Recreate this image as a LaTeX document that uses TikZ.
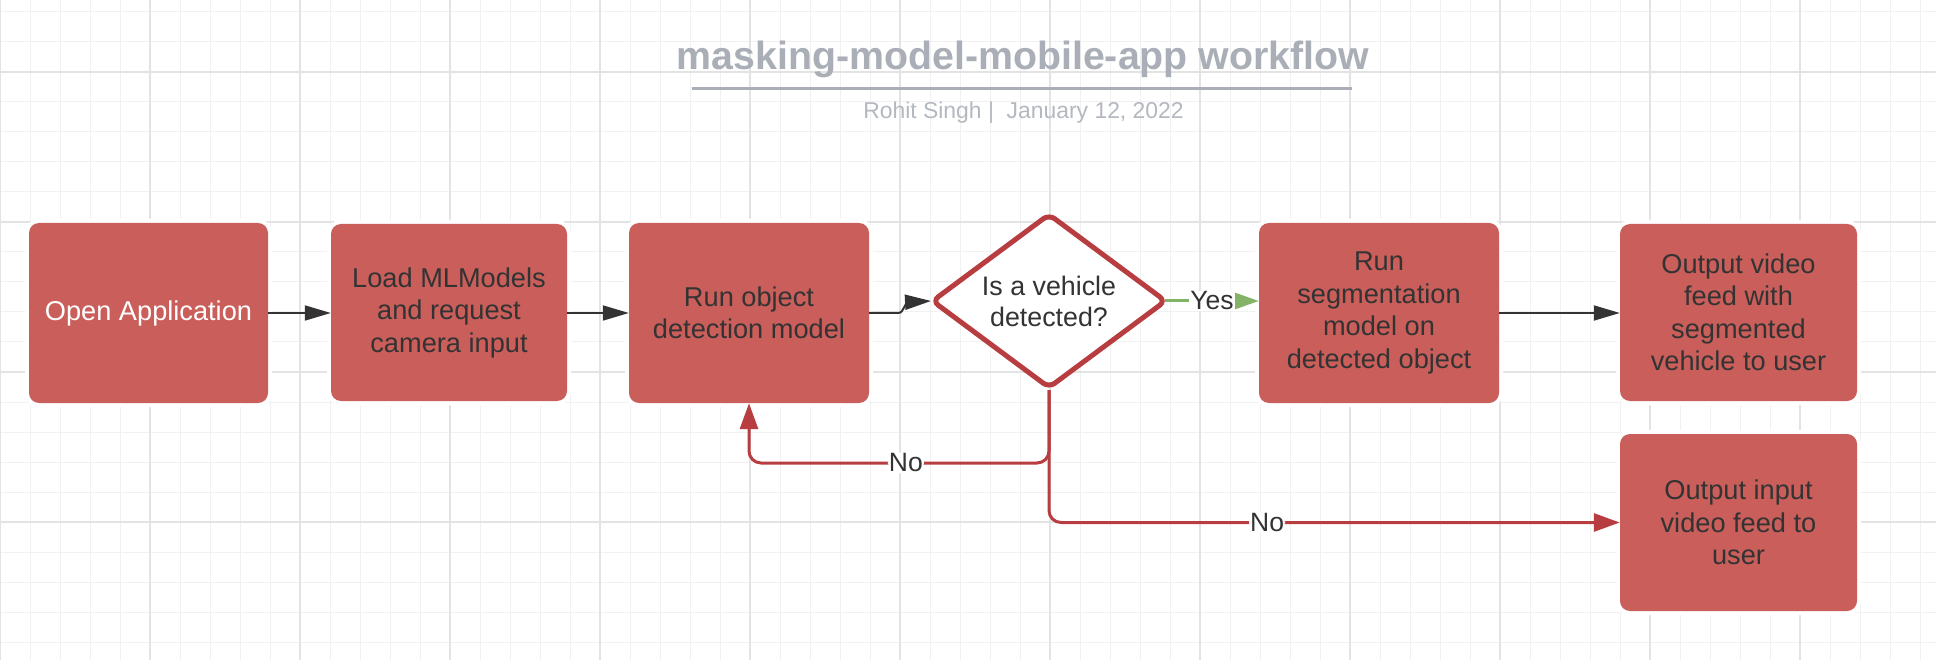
\documentclass[tikz,border=0pt]{standalone}
\usepackage{fontspec}
\setmainfont{Liberation Sans}
\usetikzlibrary{arrows.meta,shapes.geometric}
\definecolor{boxred}{HTML}{C95E5A}
\definecolor{linered}{HTML}{B83D41}
\definecolor{dkline}{HTML}{333333}
\definecolor{txt}{HTML}{333333}
\definecolor{ttl}{HTML}{A9AEB7}
\definecolor{subt}{HTML}{B4B8C0}
\definecolor{grmin}{HTML}{F1F1F1}
\definecolor{grmaj}{HTML}{E3E3E3}
\definecolor{yesgreen}{HTML}{82B366}
\begin{document}
\begin{tikzpicture}[x=1pt,y=-1pt,
  box/.style={rectangle, rounded corners=10pt, fill=boxred, text=txt, align=center,
    inner sep=0pt, font=\fontsize{27.2}{32.5}\selectfont,
    preaction={draw=white, line width=8pt}},
  decision/.style={diamond, aspect=1.35, draw=linered, line width=5pt, fill=white,
    minimum width=235pt, minimum height=175pt, rounded corners=7pt, inner sep=0pt,
    align=center, text=txt, font=\fontsize{26.8}{31}\selectfont},
  dkarrow/.style={draw=dkline, line width=2pt, -{Triangle[length=26pt,width=15pt]}},
  redarrow/.style={draw=linered, line width=3pt, rounded corners=12pt, -{Triangle[length=26pt,width=18pt]}},
  yesarrow/.style={draw=yesgreen, line width=3pt, -{Triangle[length=24pt,width=16pt]}},
  lbl/.style={fill=white, inner sep=1pt, text=txt, font=\fontsize{26.5}{30}\selectfont}
]
\useasboundingbox (0,0) rectangle (1936,660);
\fill[white] (0,0) rectangle (1936,660);
% grid
\foreach \i in {0,...,64} \draw[grmin, line width=1pt] (\i*30,0) -- (\i*30,660);
\foreach \j in {0,...,21} \draw[grmin, line width=1pt] (0,12+\j*30) -- (1936,12+\j*30);
\foreach \i in {0,...,12} \draw[grmaj, line width=1.2pt] (\i*150,0) -- (\i*150,660);
\foreach \j in {0,...,3} \draw[grmaj, line width=1.2pt] (0,72+\j*150) -- (1936,72+\j*150);

% title
\node[anchor=base, text=ttl, font=\bfseries\fontsize{39.3}{47}\selectfont] (title) at (1023,70) {masking-model-mobile-app workflow};
\draw[ttl, line width=3pt] (692,89) -- (1352,89);
\node[anchor=base, text=subt, font=\fontsize{22.9}{27}\selectfont] (subtitle) at (1023.5,119) {Rohit Singh |\ \ January 12, 2022};

% boxes
\node[box, minimum width=239pt, minimum height=180pt, text=white] (b1) at (148.5,313) {Open Application};
\node[box, minimum width=236pt, minimum height=177pt] (b2) at (449,312.5) {Load MLModels\\and request\\camera input};
\node[box, minimum width=240pt, minimum height=180pt] (b3) at (749,313) {Run object\\detection model};
\node[box, minimum width=240pt, minimum height=180pt] (seg) at (1379,313) {Run\\segmentation\\model on\\detected object};
\node[box, minimum width=237pt, minimum height=177pt] (out1) at (1738.5,312.5) {Output video\\feed with\\segmented\\vehicle to user};
\node[box, minimum width=237pt, minimum height=177pt] (out2) at (1738.5,522.5) {Output input\\video feed to\\user};

% connectors
\draw[dkarrow] (b1.east) -- (b1.east -| b2.west);
\draw[dkarrow] (b2.east |- b3.east) -- (b3.west);
\draw[dkarrow] (seg.east) -- (seg.east -| out1.west);

\draw[redarrow] (1049,390) -- (1049,463) -- node[lbl, pos=0.477]{No} (749,463) -- (b3.south);
\draw[redarrow] (1049,390) -- (1049,522.5) -- node[lbl, pos=0.382]{No} (out2.west);

\node[decision] (dec) at (1049,301) {Is a vehicle\\detected?};

\draw[dkarrow] (b3.east) -- (898,313) .. controls (905,313) and (903,302) .. (910,302) -- ([xshift=2pt]dec.west);
\draw[yesarrow] ([xshift=-4pt]dec.east) -- node[lbl]{Yes} (dec.east -| seg.west);
\end{tikzpicture}
\end{document}
